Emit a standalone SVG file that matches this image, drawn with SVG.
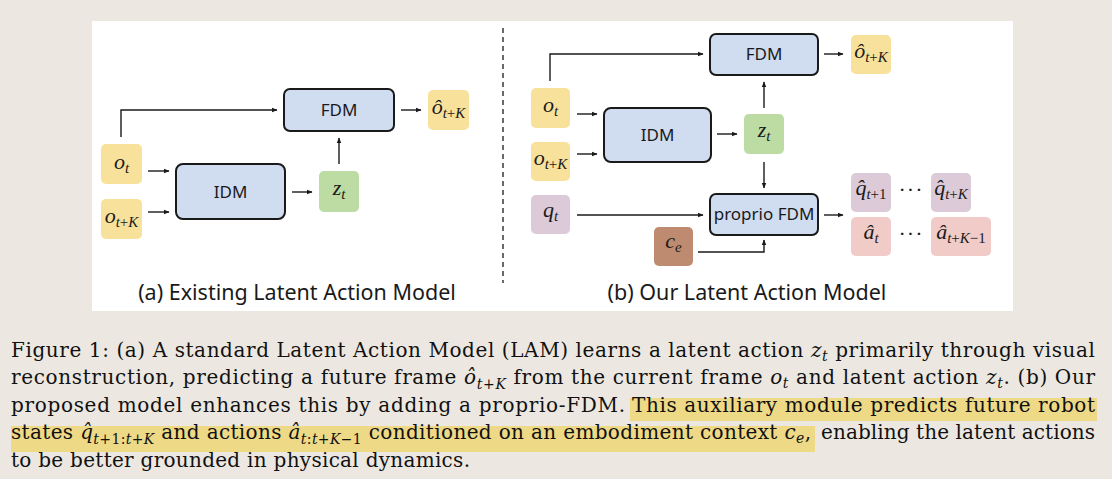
<svg xmlns="http://www.w3.org/2000/svg" width="1112" height="479" viewBox="0 0 1112 479">
<style>
.blk{fill:#d0dcf0;stroke:#1a1a1a;stroke-width:2}
.yel{fill:#f8e19b}
.grn{fill:#bcdca4}
.pur{fill:#dccad8}
.pnk{fill:#f1cbc8}
.brn{fill:#be8a70}
.lbl{font-family:"Noto Sans","Open Sans",sans-serif;font-size:17px;fill:#1a1a1a;text-anchor:middle}
.m{font-family:"Liberation Serif","DejaVu Serif",serif;font-style:italic;font-size:22px;fill:#1a1a1a;text-anchor:middle}
.s{font-size:15px}
.sb{font-family:"Liberation Serif",serif;font-style:normal}
.cap{font-family:"Noto Sans","Open Sans",sans-serif;font-size:21.5px;fill:#1a1a1a;text-anchor:middle}
.c{font-family:"DejaVu Serif","Liberation Serif",serif;font-size:20px;fill:#111}
.ci{font-style:italic}
.cs{font-size:14px;font-style:italic}
.n{font-style:normal}
.ar{fill:none;stroke:#1a1a1a;stroke-width:1.4;marker-end:url(#ah)}
</style>
<defs>
<marker id="ah" viewBox="0 0 10 10" refX="9" refY="5" markerWidth="6" markerHeight="6" orient="auto" markerUnits="userSpaceOnUse">
<path d="M0,1 L10,5 L0,9 z" fill="#1a1a1a"/>
</marker>
</defs>
<rect width="1112" height="479" fill="#ece8e1"/>
<rect x="92" y="21" width="921" height="290" fill="#ffffff"/>
<line x1="503" y1="28" x2="503" y2="283" stroke="#1a1a1a" stroke-width="1.3" stroke-dasharray="5,4"/>

<!-- panel a -->
<g id="a_ot"><rect class="yel" x="101" y="144" width="41" height="40" rx="5"/><text class="m" x="121.5" y="169">o<tspan class="s" dy="4">t</tspan></text></g>
<g id="a_otk"><rect class="yel" x="101" y="199" width="41" height="40" rx="5"/><text class="m" x="121.5" y="223">o<tspan class="s" dy="4">t<tspan class="sb">+</tspan>K</tspan></text></g>
<g id="a_idm"><rect class="blk" x="176" y="164" width="109" height="55" rx="7"/><text class="lbl" x="230.5" y="198">IDM</text></g>
<g id="a_zt"><rect class="grn" x="319" y="171" width="40" height="41" rx="5"/><text class="m" x="339" y="195">z<tspan class="s" dy="4">t</tspan></text></g>
<g id="a_fdm"><rect class="blk" x="284" y="89" width="110" height="42" rx="6"/><text class="lbl" x="339" y="116">FDM</text></g>
<g id="a_ohat"><rect class="yel" x="428" y="90" width="41" height="40" rx="5"/><text class="m" x="448.5" y="114">ô<tspan class="s" dy="4">t<tspan class="sb">+</tspan>K</tspan></text></g>
<text class="cap" x="297" y="300">(a) Existing Latent Action Model</text>

<!-- panel b -->
<g id="b_ot"><rect class="yel" x="531" y="88" width="39" height="40" rx="5"/><text class="m" x="550.5" y="112">o<tspan class="s" dy="4">t</tspan></text></g>
<g id="b_otk"><rect class="yel" x="531" y="142" width="39" height="39" rx="5"/><text class="m" x="550.5" y="165">o<tspan class="s" dy="4">t<tspan class="sb">+</tspan>K</tspan></text></g>
<g id="b_qt"><rect class="pur" x="531" y="195" width="39" height="39" rx="5"/><text class="m" x="550.5" y="217">q<tspan class="s" dy="4">t</tspan></text></g>
<g id="b_idm"><rect class="blk" x="604" y="108" width="107" height="54" rx="7"/><text class="lbl" x="657.5" y="141">IDM</text></g>
<g id="b_zt"><rect class="grn" x="744" y="114" width="40" height="40" rx="5"/><text class="m" x="764" y="137">z<tspan class="s" dy="4">t</tspan></text></g>
<g id="b_fdm"><rect class="blk" x="710" y="34" width="108" height="41" rx="6"/><text class="lbl" x="764" y="60">FDM</text></g>
<g id="b_ohat"><rect class="yel" x="851" y="35" width="40" height="39" rx="5"/><text class="m" x="871" y="58">ô<tspan class="s" dy="4">t<tspan class="sb">+</tspan>K</tspan></text></g>
<g id="b_pfdm"><rect class="blk" x="710" y="194" width="108" height="41" rx="6"/><text class="lbl" x="764" y="220">proprio FDM</text></g>
<g id="b_ce"><rect class="brn" x="654" y="227" width="39" height="39" rx="5"/><text class="m" x="673.5" y="248">c<tspan class="s" dy="4">e</tspan></text></g>
<g id="b_q1"><rect class="pur" x="851" y="173" width="40" height="39" rx="5"/><text class="m" x="871" y="195">q̂<tspan class="s" dy="4">t<tspan class="sb">+1</tspan></tspan></text></g>
<g id="b_qk"><rect class="pur" x="931" y="173" width="40" height="39" rx="5"/><text class="m" x="951" y="195">q̂<tspan class="s" dy="4">t<tspan class="sb">+</tspan>K</tspan></text></g>
<g id="b_a0"><rect class="pnk" x="851" y="217" width="40" height="39" rx="5"/><text class="m" x="871" y="239">â<tspan class="s" dy="4">t</tspan></text></g>
<g id="b_ak"><rect class="pnk" x="931" y="217" width="60" height="39" rx="5"/><text class="m" x="961" y="239">â<tspan class="s" dy="4">t<tspan class="sb">+</tspan>K<tspan class="sb">−1</tspan></tspan></text></g>
<text class="m" x="911" y="197" style="font-style:normal;letter-spacing:1px">···</text>
<text class="m" x="911" y="241" style="font-style:normal;letter-spacing:1px">···</text>
<text class="cap" x="747" y="300">(b) Our Latent Action Model</text>

<g id="connectors">
<path class="ar" d="M121,137 V110 H277"/>
<path class="ar" d="M148,171 H169"/>
<path class="ar" d="M148,212 H169"/>
<path class="ar" d="M292,192 H312"/>
<path class="ar" d="M339,164 V138"/>
<path class="ar" d="M401,110 H421"/>
<path class="ar" d="M550,81 V54 H703"/>
<path class="ar" d="M577,114 H597"/>
<path class="ar" d="M577,154 H597"/>
<path class="ar" d="M717,134 H737"/>
<path class="ar" d="M764,108 V82"/>
<path class="ar" d="M764,162 V188"/>
<path class="ar" d="M577,215 H703"/>
<path class="ar" d="M698,252 H764 V240"/>
<path class="ar" d="M824,54 H843"/>
<path class="ar" d="M824,215 H843"/>
</g>

<!-- caption -->
<rect x="630" y="398" width="467" height="23" fill="#eed987"/>
<rect x="11" y="426" width="804" height="26" fill="#eed987"/>
<g class="c">
<text x="11" y="357" textLength="1084" lengthAdjust="spacing">Figure 1: (a) A standard Latent Action Model (LAM) learns a latent action <tspan class="ci">z</tspan><tspan class="cs" dy="4">t</tspan><tspan dy="-4"> primarily through visual</tspan></text>
<text x="11" y="384" textLength="1084" lengthAdjust="spacing">reconstruction, predicting a future frame <tspan class="ci">ô</tspan><tspan class="cs" dy="5">t<tspan class="n">+</tspan>K</tspan><tspan dy="-5"> from the current frame </tspan><tspan class="ci">o</tspan><tspan class="cs" dy="4">t</tspan><tspan dy="-4"> and latent action </tspan><tspan class="ci">z</tspan><tspan class="cs" dy="4">t</tspan><tspan dy="-4">.  (b) Our</tspan></text>
<text x="11" y="412" textLength="614" lengthAdjust="spacing">proposed model enhances this by adding a proprio-FDM.</text>
<text x="632" y="412" textLength="463" lengthAdjust="spacing">This auxiliary module predicts future robot</text>
<text x="11" y="439" textLength="800" lengthAdjust="spacing">states <tspan class="ci">q̂</tspan><tspan class="cs" dy="5">t<tspan class="n">+1:</tspan>t<tspan class="n">+</tspan>K</tspan><tspan dy="-5"> and actions </tspan><tspan class="ci">â</tspan><tspan class="cs" dy="5">t<tspan class="n">:</tspan>t<tspan class="n">+</tspan>K<tspan class="n">−1</tspan></tspan><tspan dy="-5"> conditioned on an embodiment context </tspan><tspan class="ci">c</tspan><tspan class="cs" dy="4">e</tspan><tspan dy="-4">,</tspan></text>
<text x="821" y="439" textLength="274" lengthAdjust="spacing">enabling the latent actions</text>
<text x="11" y="467" textLength="459" lengthAdjust="spacing">to be better grounded in physical dynamics.</text>
</g>
</svg>
